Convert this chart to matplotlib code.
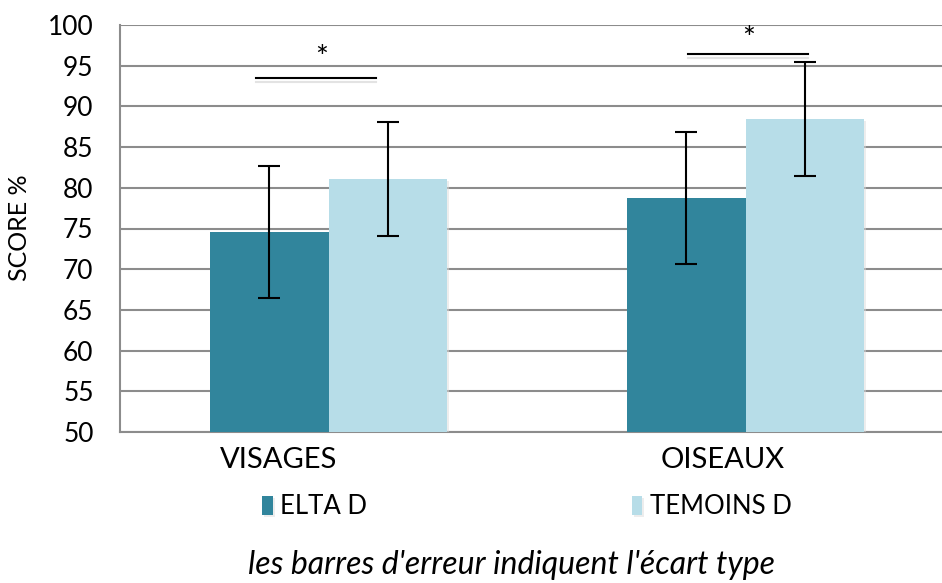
import numpy as np
import matplotlib.pyplot as plt
import matplotlib.patheffects as pe

# Données
categories = ['VISAGES', 'OISEAUX']
series = ['ELTA D', 'TEMOINS D']
elta = [74.6, 78.8]
temoins = [81.1, 88.5]
elta_sd = [8.1, 8.1]
temoins_sd = [7.0, 7.0]

# Barres de significativité (position en unités de catégorie)
sig_x0 = [-0.173, 0.863]
sig_x1 = [0.113, 1.149]
sig_y = [93.5, 96.4]
star_x = [-0.017, 1.007]
star_y = [95.9, 98.3]
sig_label = ['*', '*']

# décalage des étiquettes de catégorie dans l'image d'origine
label_pos = [-0.12, 0.945]

couleurs = ['#31859c', '#b7dde8']

plt.rcParams['font.family'] = ['Lato', 'DejaVu Sans']

fig = plt.figure(figsize=(9.42, 5.83), dpi=100)
ax = fig.add_axes([120 / 942, 1 - 432 / 583, 834 / 942, 407 / 583])

x = np.arange(len(categories))
w = 0.285

ombre = [pe.SimplePatchShadow(offset=(1.5, -1.5), shadow_rgbFace='#dddddd', alpha=0.5), pe.Normal()]
b1 = ax.bar(x - w / 2, elta, w, color=couleurs[0], label=series[0], zorder=3,
            path_effects=ombre)
b2 = ax.bar(x + w / 2, temoins, w, color=couleurs[1], label=series[1], zorder=3,
            path_effects=ombre)

ax.errorbar(x - w / 2, elta, yerr=elta_sd, fmt='none', ecolor='black', elinewidth=1.5,
            capsize=8, capthick=1.5, zorder=4)
ax.errorbar(x + w / 2, temoins, yerr=temoins_sd, fmt='none', ecolor='black', elinewidth=1.5,
            capsize=8, capthick=1.5, zorder=4)

for i in range(len(categories)):
    ax.plot([sig_x0[i], sig_x1[i]], [sig_y[i], sig_y[i]], color='black', lw=1.5, zorder=5,
            path_effects=[pe.SimpleLineShadow(offset=(0, -3), shadow_color='#bbbbbb', alpha=0.4),
                          pe.Normal()])
    ax.text(star_x[i], star_y[i], sig_label[i], ha='center', va='center',
            fontsize=22, zorder=5)

ax.set_ylim(50, 100)
ax.set_xlim(-0.5, 1.5)
ax.set_yticks(np.arange(50, 101, 5))
ax.set_xticks(label_pos)
ax.set_xticklabels(categories, fontsize=21)
ax.tick_params(axis='y', labelsize=19, length=0, pad=19)
ax.tick_params(axis='x', length=0, pad=11)
ax.yaxis.grid(True, color='#8c8c8c', lw=1.5, zorder=0)
ax.set_axisbelow(True)
for s in ['top', 'right']:
    ax.spines[s].set_visible(False)
for s in ['left', 'bottom']:
    ax.spines[s].set_color('#8c8c8c')
    ax.spines[s].set_linewidth(1.5)

fig.text(20 / 942, 1 - 228 / 583, 'SCORE %', rotation=90, ha='center', va='center', fontsize=18)

ax.legend(handles=[b1, b2], loc='center', bbox_to_anchor=(527 / 942, 1 - 507 / 583),
          bbox_transform=fig.transFigure, ncol=2, frameon=False, fontsize=18.5,
          handlelength=0.4, handleheight=0.8, handletextpad=0.3, columnspacing=10.3)

fig.text(512 / 942, 1 - 565 / 583, "les barres d'erreur indiquent l'écart type",
         ha='center', va='center', fontsize=23, style='italic')

fig.savefig('out.png', dpi=100)
